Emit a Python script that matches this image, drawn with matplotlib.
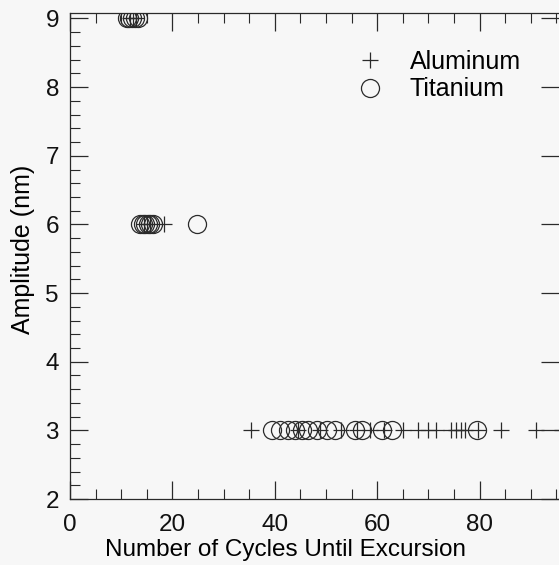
import matplotlib

matplotlib.use("Agg")

import matplotlib.pyplot as plt
from matplotlib.ticker import MultipleLocator

plt.rcParams["font.family"] = ["Liberation Sans", "DejaVu Sans"]

# cycles until excursion, grouped by amplitude (nm)
al_9 = [11.8, 12.4, 12.9]
ti_9 = [11.1, 11.6, 12.2, 12.7, 13.3]
al_6 = [14.5, 15.0, 15.6, 18.4]
ti_6 = [13.7, 14.2, 14.7, 15.2, 15.7, 16.2, 24.8]
al_3 = [35.3, 44.5, 48.8, 53.0, 56.0, 58.5, 61.4, 65.0, 67.9, 69.9, 71.5,
        74.4, 75.4, 76.4, 77.1, 79.6, 84.2, 91.0, 96.0]
ti_3 = [39.4, 41.0, 42.6, 43.9, 45.3, 46.5, 48.2, 50.1, 51.8, 55.7, 57.0,
        60.9, 62.8, 79.4]

aluminum_x = al_9 + al_6 + al_3
aluminum_y = [9] * len(al_9) + [6] * len(al_6) + [3] * len(al_3)
titanium_x = ti_9 + ti_6 + ti_3
titanium_y = [9] * len(ti_9) + [6] * len(ti_6) + [3] * len(ti_3)

ink = "#2a2a2a"

fig = plt.figure(figsize=(5.59, 5.65), dpi=100)
fig.patch.set_facecolor("#f7f7f7")
ax = fig.add_axes([70 / 559, 66 / 565, 489 / 559, 486 / 565])
ax.set_facecolor("#f7f7f7")

ax.plot(aluminum_x, aluminum_y, linestyle="none", marker="+", markersize=12,
        markeredgewidth=0.9, color=ink, label="Aluminum")
ax.plot(titanium_x, titanium_y, linestyle="none", marker="o", markersize=13,
        markerfacecolor="none", markeredgewidth=0.9, markeredgecolor=ink,
        label="Titanium")

ax.set_xlim(0, 95.5)
ax.set_ylim(2, 9.08)
ax.xaxis.set_major_locator(MultipleLocator(20))
ax.xaxis.set_minor_locator(MultipleLocator(5))
ax.yaxis.set_major_locator(MultipleLocator(1))
ax.yaxis.set_minor_locator(MultipleLocator(0.2))

ax.tick_params(which="both", direction="in", top=True, right=False,
               color=ink, labelsize=17.5, labelcolor="#111111")
ax.tick_params(which="major", length=13, width=0.9)
ax.tick_params(which="minor", length=7, width=0.8)
ax.tick_params(axis="x", which="major", pad=11)
ax.tick_params(axis="y", which="major", pad=8, right=True)
ax.spines["right"].set_visible(False)
for side in ("left", "bottom", "top"):
    ax.spines[side].set_color(ink)
    ax.spines[side].set_linewidth(0.9)

ax.set_xlabel("Number of Cycles Until Excursion", fontsize=17.5, va="center")
ax.xaxis.set_label_coords(0.44, -0.105)
ax.set_ylabel("Amplitude (nm)", fontsize=18, va="center")
ax.yaxis.set_label_coords(-0.096, 0.514)

ax.legend(loc="upper left", bbox_to_anchor=(0.562, 0.945), frameon=False,
          fontsize=18, handletextpad=1.0, borderaxespad=0, labelspacing=0.15,
          handlelength=1.2)

fig.savefig("out.png", dpi=100, facecolor=fig.get_facecolor())
